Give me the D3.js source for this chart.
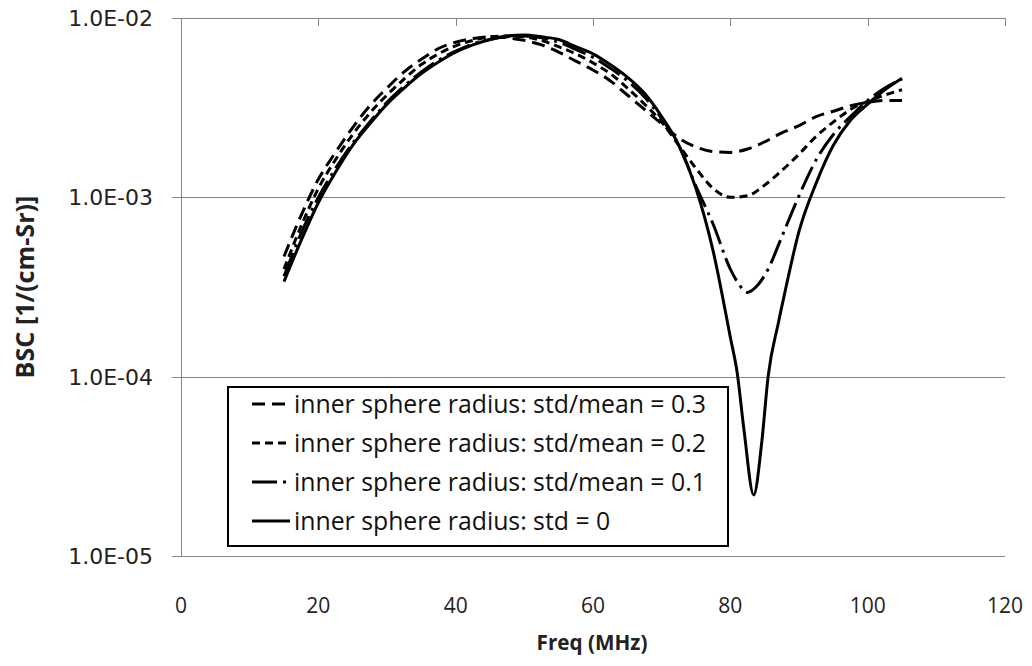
<!DOCTYPE html>
<html>
<head>
<meta charset="utf-8">
<title>BSC vs Freq</title>
<script src="https://d3js.org/d3.v7.min.js"></script>
<style>body{margin:0;background:#fff;}</style>
</head>
<body>
<script>
var width = 1032, height = 666;

// axis ticks
var xTicks = [0, 20, 40, 60, 80, 100, 120];
var yTicks = [1e-2, 1e-3, 1e-4, 1e-5];
var yTickLabels = ["1.0E-02", "1.0E-03", "1.0E-04", "1.0E-05"];

// series
var freqGrid = [15, 17.5, 20, 22.5, 25, 27.5, 30, 32.5, 35, 37.5, 40, 42.5, 45, 47.5, 50, 52.5, 55, 57.5, 60, 62.5, 65, 67.5, 70, 72.5, 75, 77.5, 80, 82.5, 85, 87.5, 90, 92.5, 95, 97.5, 100, 102.5, 105];
var bsc03 = [4.68e-4, 7.94e-4, 1.26e-3, 1.78e-3, 2.45e-3, 3.24e-3, 4.07e-3, 5.01e-3, 5.89e-3, 6.76e-3, 7.33e-3, 7.67e-3, 7.85e-3, 7.76e-3, 7.50e-3, 7.08e-3, 6.46e-3, 5.75e-3, 5.13e-3, 4.47e-3, 3.72e-3, 3.09e-3, 2.57e-3, 2.14e-3, 1.91e-3, 1.80e-3, 1.78e-3, 1.86e-3, 2.04e-3, 2.29e-3, 2.51e-3, 2.82e-3, 3.02e-3, 3.24e-3, 3.39e-3, 3.47e-3, 3.47e-3];
var bsc02 = [3.98e-4, 6.92e-4, 1.12e-3, 1.62e-3, 2.24e-3, 2.95e-3, 3.72e-3, 4.57e-3, 5.50e-3, 6.31e-3, 7.00e-3, 7.50e-3, 7.85e-3, 7.94e-3, 7.85e-3, 7.50e-3, 6.92e-3, 6.31e-3, 5.62e-3, 4.90e-3, 4.07e-3, 3.31e-3, 2.63e-3, 1.95e-3, 1.45e-3, 1.12e-3, 1.00e-3, 1.02e-3, 1.17e-3, 1.41e-3, 1.74e-3, 2.19e-3, 2.63e-3, 3.09e-3, 3.43e-3, 3.72e-3, 3.98e-3];

var freq01 = [15, 17.5, 20, 22.5, 25, 27.5, 30, 32.5, 35, 37.5, 40, 42.5, 45, 47.5, 50, 52.5, 55, 57.5, 60, 62.5, 65, 67.5, 70, 72.5, 75, 77.5, 80, 81, 82.5, 84, 85.5, 87.5, 90, 92.5, 95, 97.5, 100, 102.5, 105];
var bsc01 = [3.63e-4, 6.31e-4, 1.00e-3, 1.45e-3, 2.00e-3, 2.63e-3, 3.39e-3, 4.17e-3, 5.01e-3, 5.82e-3, 6.53e-3, 7.16e-3, 7.59e-3, 7.85e-3, 7.94e-3, 7.76e-3, 7.33e-3, 6.68e-3, 6.03e-3, 5.25e-3, 4.47e-3, 3.63e-3, 2.75e-3, 1.95e-3, 1.15e-3, 7.08e-4, 3.98e-4, 3.39e-4, 2.95e-4, 3.24e-4, 3.98e-4, 6.03e-4, 1.02e-3, 1.62e-3, 2.24e-3, 2.82e-3, 3.47e-3, 4.07e-3, 4.57e-3];

var freq00 = [15, 17.5, 20, 22.5, 25, 27.5, 30, 32.5, 35, 37.5, 40, 42.5, 45, 47.5, 50, 52.5, 55, 57.5, 60, 62.5, 65, 67.5, 70, 72.5, 75, 77.5, 80, 81, 82, 83.4, 84.6, 85.5, 87, 88, 90, 92.5, 95, 97.5, 100, 102.5, 105];
var bsc00 = [3.39e-4, 5.75e-4, 9.33e-4, 1.38e-3, 1.95e-3, 2.57e-3, 3.31e-3, 4.07e-3, 4.90e-3, 5.69e-3, 6.46e-3, 7.08e-3, 7.59e-3, 7.94e-3, 8.04e-3, 7.85e-3, 7.59e-3, 6.92e-3, 6.31e-3, 5.50e-3, 4.68e-3, 3.80e-3, 2.82e-3, 1.95e-3, 1.12e-3, 5.01e-4, 1.66e-4, 1.05e-4, 5.0e-5, 2.19e-5, 4.4e-5, 1.00e-4, 2.00e-4, 3.02e-4, 6.46e-4, 1.20e-3, 1.95e-3, 2.69e-3, 3.31e-3, 3.98e-3, 4.62e-3];

var seriesNames = [
  "inner sphere radius: std/mean = 0.3",
  "inner sphere radius: std/mean = 0.2",
  "inner sphere radius: std/mean = 0.1",
  "inner sphere radius: std = 0"
];

var series = [
  {name: seriesNames[0], freq: freqGrid, bsc: bsc03, dash: "13,7"},
  {name: seriesNames[1], freq: freqGrid, bsc: bsc02, dash: "8,5"},
  {name: seriesNames[2], freq: freq01, bsc: bsc01, dash: "25,6,3,6"},
  {name: seriesNames[3], freq: freq00, bsc: bsc00, dash: null}
];

var svg = d3.select("body").append("svg").attr("width", width).attr("height", height);

var x = d3.scaleLinear().domain([0, 120]).range([181, 1005]);
var y = d3.scaleLog().domain([1e-5, 1e-2]).range([556, 18]);
var axisGrey = "#868686";

// fit a text element's width to what the reference shows
function fitWidth(sel, base, target) {
  var w = sel.node().getComputedTextLength();
  sel.style("font-size", (base * target / w) + "px");
}

// horizontal gridlines (with the small left ticks)
svg.append("g").selectAll("line")
  .data(yTicks).enter().append("line")
  .attr("x1", x(0) - 9).attr("x2", x(120))
  .attr("y1", function(d){ return Math.round(y(d)) + 0.5; })
  .attr("y2", function(d){ return Math.round(y(d)) + 0.5; })
  .attr("stroke", axisGrey).attr("stroke-width", 1);

// y axis line
svg.append("line")
  .attr("x1", x(0) + 0.5).attr("x2", x(0) + 0.5)
  .attr("y1", y(1e-2)).attr("y2", y(1e-5))
  .attr("stroke", axisGrey);

// x axis sits on top edge, ticks hang down
svg.append("g").selectAll("line")
  .data(xTicks).enter().append("line")
  .attr("x1", function(d){ return Math.round(x(d)) + 0.5; })
  .attr("x2", function(d){ return Math.round(x(d)) + 0.5; })
  .attr("y1", y(1e-2)).attr("y2", y(1e-2) + 8)
  .attr("stroke", axisGrey);

// y tick labels
svg.append("g").selectAll("text")
  .data(yTicks).enter().append("text")
  .attr("x", 153).attr("y", function(d){ return y(d); })
  .attr("dy", "0.36em")
  .attr("text-anchor", "end")
  .style("font-family", "'DejaVu Sans', Verdana, sans-serif")
  .style("font-size", "22px")
  .attr("fill", "#222")
  .text(function(d, i){ return yTickLabels[i]; });

// x tick labels along the bottom
svg.append("g").selectAll("text")
  .data(xTicks).enter().append("text")
  .attr("x", function(d){ return x(d); }).attr("y", 605)
  .attr("dy", "0.36em")
  .attr("text-anchor", "middle")
  .style("font-family", "'Open Sans', sans-serif")
  .style("font-size", "21px")
  .attr("fill", "#222")
  .text(function(d){ return d; });

// axis titles
var xTitle = svg.append("text")
  .attr("x", 592).attr("y", 643).attr("dy", "0.36em")
  .attr("text-anchor", "middle")
  .style("font-family", "'Open Sans', sans-serif")
  .style("font-size", "20px").style("font-weight", "bold")
  .attr("fill", "#222")
  .text("Freq  (MHz)");
fitWidth(xTitle, 20, 111);

var yTitle = svg.append("text")
  .attr("transform", "translate(25,287) rotate(-90)")
  .attr("dy", "0.36em")
  .attr("text-anchor", "middle")
  .style("font-family", "'Open Sans', sans-serif")
  .style("font-size", "20px").style("font-weight", "bold")
  .attr("fill", "#222")
  .text("BSC [1/(cm-Sr)]");
fitWidth(yTitle, 20, 183);

// curves
var line = d3.line()
  .x(function(d){ return x(d[0]); })
  .y(function(d){ return y(d[1]); })
  .curve(d3.curveMonotoneX);

svg.append("g").selectAll("path")
  .data(series).enter().append("path")
  .attr("d", function(s){ return line(s.freq.map(function(f, i){ return [f, s.bsc[i]]; })); })
  .attr("fill", "none")
  .attr("stroke", "#000")
  .attr("stroke-width", 3)
  .attr("stroke-dasharray", function(s){ return s.dash; });

// legend
var legend = svg.append("g");
legend.append("rect")
  .attr("x", 228).attr("y", 387).attr("width", 500).attr("height", 159)
  .attr("fill", "#fff").attr("stroke", "#000").attr("stroke-width", 2);

var rows = legend.selectAll("g.row")
  .data(series).enter().append("g").attr("class", "row")
  .attr("transform", function(d, i){ return "translate(0," + (404 + i * 39) + ")"; });

rows.append("line")
  .attr("x1", 252).attr("x2", 290).attr("y1", 0).attr("y2", 0)
  .attr("stroke", "#000").attr("stroke-width", 3)
  .attr("stroke-dasharray", function(s){ return s.dash; });

var labels = rows.append("text")
  .attr("x", 294).attr("y", 0).attr("dy", "0.36em")
  .style("font-family", "'Open Sans', sans-serif")
  .style("font-size", "20px")
  .attr("fill", "#111")
  .text(function(s){ return s.name; });

var w0 = labels.node().getComputedTextLength();
labels.style("font-size", (20 * 412 / w0) + "px");
</script>
</body>
</html>
